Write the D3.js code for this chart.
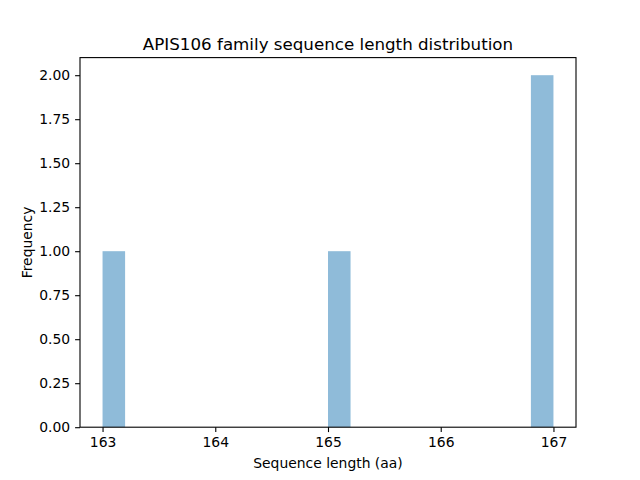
<!DOCTYPE html>
<html>
<head>
<meta charset="utf-8">
<script src="https://cdn.jsdelivr.net/npm/d3@7"></script>
<style>
  body { margin: 0; background: #fff; }
  text { font-family: "DejaVu Sans", sans-serif; fill: #000; }
</style>
</head>
<body>
<div id="chart"></div>
<script>
// histogram bins (left edges) and counts
const binStarts = [163, 165, 166.8];
const binCounts = [1, 1, 2];
const binWidth = 0.2;
const xTicks = [163, 164, 165, 166, 167];
const yTicks = [0, 0.25, 0.5, 0.75, 1.0, 1.25, 1.5, 1.75, 2.0];

const width = 640, height = 480;
const margin = { top: 57.6, right: 64, bottom: 52.8, left: 80 };

const svg = d3.select("#chart")
    .append("svg")
    .attr("width", width)
    .attr("height", height);

const x = d3.scaleLinear()
    .domain([162.8, 167.2])
    .range([margin.left, width - margin.right]);

const y = d3.scaleLinear()
    .domain([0, 2.1])
    .range([height - margin.bottom, margin.top]);

// bars
svg.selectAll(".bar")
    .data(binStarts.map((s, i) => ({ start: s, count: binCounts[i] })))
    .enter()
    .append("rect")
    .attr("class", "bar")
    .attr("x", d => x(d.start))
    .attr("y", d => y(d.count))
    .attr("width", d => x(d.start + binWidth) - x(d.start))
    .attr("height", d => y(0) - y(d.count))
    .attr("fill", "#1f77b4")
    .attr("fill-opacity", 0.5);

// axes
const xAxis = svg.append("g")
    .attr("transform", `translate(0,${height - margin.bottom})`)
    .call(d3.axisBottom(x).tickValues(xTicks).tickFormat(d3.format("d")).tickSizeOuter(0).tickSize(4.9).tickPadding(4.9));

const yAxis = svg.append("g")
    .attr("transform", `translate(${margin.left},0)`)
    .call(d3.axisLeft(y).tickValues(yTicks).tickFormat(d3.format(".2f")).tickSizeOuter(0).tickSize(4.9).tickPadding(4.9));

[xAxis, yAxis].forEach(g => {
    g.selectAll("text").style("font-size", "13.9px").style("font-family", "'DejaVu Sans', sans-serif");
    g.selectAll("line").attr("stroke", "#000").attr("stroke-width", 1.1);
    g.select(".domain").remove();
});

// frame
svg.append("rect")
    .attr("x", margin.left)
    .attr("y", margin.top)
    .attr("width", width - margin.left - margin.right)
    .attr("height", height - margin.top - margin.bottom)
    .attr("fill", "none")
    .attr("stroke", "#000")
    .attr("stroke-width", 1.1);

// title
svg.append("text")
    .attr("x", (margin.left + width - margin.right) / 2)
    .attr("y", margin.top - 8)
    .attr("text-anchor", "middle")
    .style("font-size", "16.7px")
    .text("APIS106 family sequence length distribution");

// x label
svg.append("text")
    .attr("x", (margin.left + width - margin.right) / 2)
    .attr("y", height - 12)
    .attr("text-anchor", "middle")
    .style("font-size", "13.9px")
    .text("Sequence length (aa)");

// y label
svg.append("text")
    .attr("transform", "rotate(-90)")
    .attr("x", -(margin.top + height - margin.bottom) / 2)
    .attr("y", 32)
    .attr("text-anchor", "middle")
    .style("font-size", "13.9px")
    .text("Frequency");
</script>
</body>
</html>
